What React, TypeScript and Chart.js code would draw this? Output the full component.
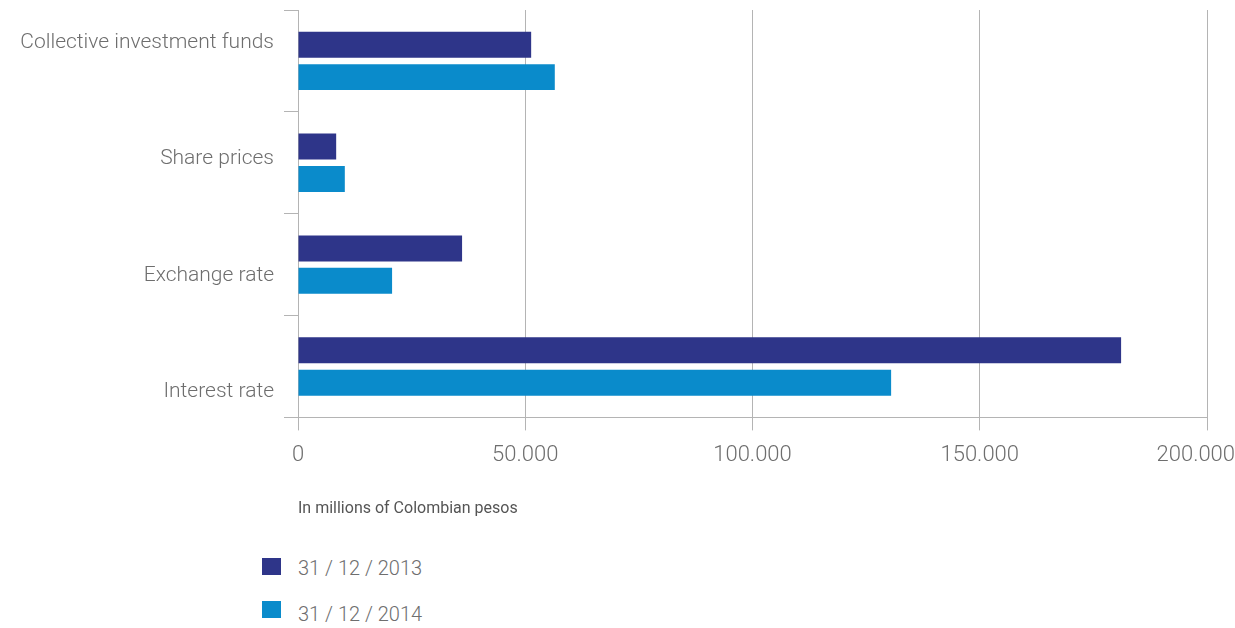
import React, { useEffect, useRef } from 'react';
import { Chart, registerables } from 'chart.js';

Chart.register(...registerables);

const categories = ['Collective investment funds', 'Share prices', 'Exchange rate', 'Interest rate'];
const series2013 = [51300, 8400, 36100, 181100];
const series2014 = [56500, 10300, 20700, 130500];
const seriesLabels = ['31 / 12 / 2013', '31 / 12 / 2014'];
const xTickValues = [0, 50000, 100000, 150000, 200000];
const axisTitle = 'In millions of Colombian pesos';
const seriesColors = ['#2e3589', '#0a8bcb'];

const FONT = "Roboto, 'Noto Sans', sans-serif";
const TEXT = '#6e6e6e';
const GRID = '#b4b4b4';

function fmt(v: number): string {
  return String(v).replace(/\B(?=(\d{3})+(?!\d))/g, '.');
}

export default function App() {
  const ref = useRef<HTMLCanvasElement | null>(null);

  useEffect(() => {
    if (!ref.current) return;
    const chart = new Chart(ref.current, {
      type: 'bar',
      data: {
        labels: categories,
        datasets: [
          { label: seriesLabels[0], data: series2013, backgroundColor: seriesColors[0], barPercentage: 0.8, categoryPercentage: 0.637, yAxisID: 'y' },
          { label: seriesLabels[1], data: series2014, backgroundColor: seriesColors[1], barPercentage: 0.8, categoryPercentage: 0.637, yAxisID: 'y' },
        ],
      },
      options: {
        indexAxis: 'y',
        responsive: false,
        maintainAspectRatio: false,
        animation: false,
        layout: { padding: { left: 0, top: 10, right: 28, bottom: 0 } },
        plugins: { legend: { display: false }, tooltip: { enabled: false } },
        scales: {
          x: {
            min: 0,
            max: 200000,
            afterBuildTicks: (scale: any) => {
              scale.ticks = xTickValues.map((v) => ({ value: v }));
            },
            afterFit: (scale: any) => {
              scale.paddingRight = 0;
              scale.paddingLeft = 0;
              if (!scale.__wrapped) {
                scale.__wrapped = true;
                const orig = scale._computeLabelItems.bind(scale);
                scale._computeLabelItems = (ca: any) => {
                  const items = orig(ca);
                  const ctx = scale.ctx;
                  const cw = scale.chart.width;
                  for (const it of items) {
                    ctx.save();
                    ctx.font = it.font.string;
                    const w = ctx.measureText(String(it.label)).width;
                    ctx.restore();
                    const x = it.options.translation[0];
                    if (x + w / 2 > cw) {
                      it.options.textAlign = 'right';
                      it.options.translation = [cw, it.options.translation[1]];
                    }
                  }
                  return items;
                };
              }
            },
            ticks: {
              callback: (v: any) => fmt(Number(v)),
              font: { family: FONT, size: 22, weight: 300 },
              color: TEXT,
              padding: 12,
              maxRotation: 0,
            },
            grid: { color: GRID, tickLength: 13, drawTicks: true },
            border: { display: true, color: GRID },
            title: {
              display: true,
              text: axisTitle,
              align: 'start',
              color: '#555555',
              font: { family: FONT, size: 16 },
              padding: { top: 19, bottom: 4 },
            },
          },
          y: {
            type: 'category',
            position: 'left',
            weight: 0,
            afterFit: (scale: any) => {
              scale.width = 14;
              scale.paddingTop = 0;
              scale.paddingBottom = 0;
            },
            ticks: { display: false },
            grid: { drawOnChartArea: false, drawTicks: true, tickLength: 14, color: GRID, offset: true },
            border: { display: true, color: GRID },
          },
          yLabels: {
            type: 'linear',
            position: 'left',
            weight: 10,
            offset: false,
            reverse: true,
            min: -0.277,
            max: 3.218,
            afterBuildTicks: (scale: any) => {
              scale.ticks = categories.map((_, i) => ({ value: i }));
            },
            afterFit: (scale: any) => {
              scale.width = 284;
              scale.paddingTop = 0;
              scale.paddingBottom = 0;
            },
            ticks: {
              callback: (v: any) => categories[Number(v)] ?? '',
              font: { family: FONT, size: 21, weight: 300 },
              color: TEXT,
              padding: 10,
              autoSkip: false,
            },
            grid: { display: false, drawTicks: false, offset: false },
            border: { display: false },
          },
        },
      },
    } as any);
    return () => chart.destroy();
  }, []);

  const legendItem = (i: number, boxTop: number, textCenter: number) => (
    <React.Fragment key={i}>
      <div style={{ position: 'absolute', left: 262, top: boxTop, width: 19, height: 17, background: seriesColors[i] }} />
      <div
        style={{
          position: 'absolute',
          left: 298,
          top: textCenter - 12,
          height: 24,
          lineHeight: '24px',
          fontFamily: FONT,
          fontWeight: 300,
          fontSize: 20,
          color: TEXT,
          whiteSpace: 'nowrap',
        }}
      >
        {seriesLabels[i]}
      </div>
    </React.Fragment>
  );

  return (
    <div style={{ position: 'absolute', left: 0, top: 0, width: 1235, height: 628, background: '#fff' }}>
      <canvas ref={ref} width={1235} height={523} style={{ display: 'block' }} />
      {legendItem(0, 558, 568)}
      {legendItem(1, 601, 614)}
    </div>
  );
}
